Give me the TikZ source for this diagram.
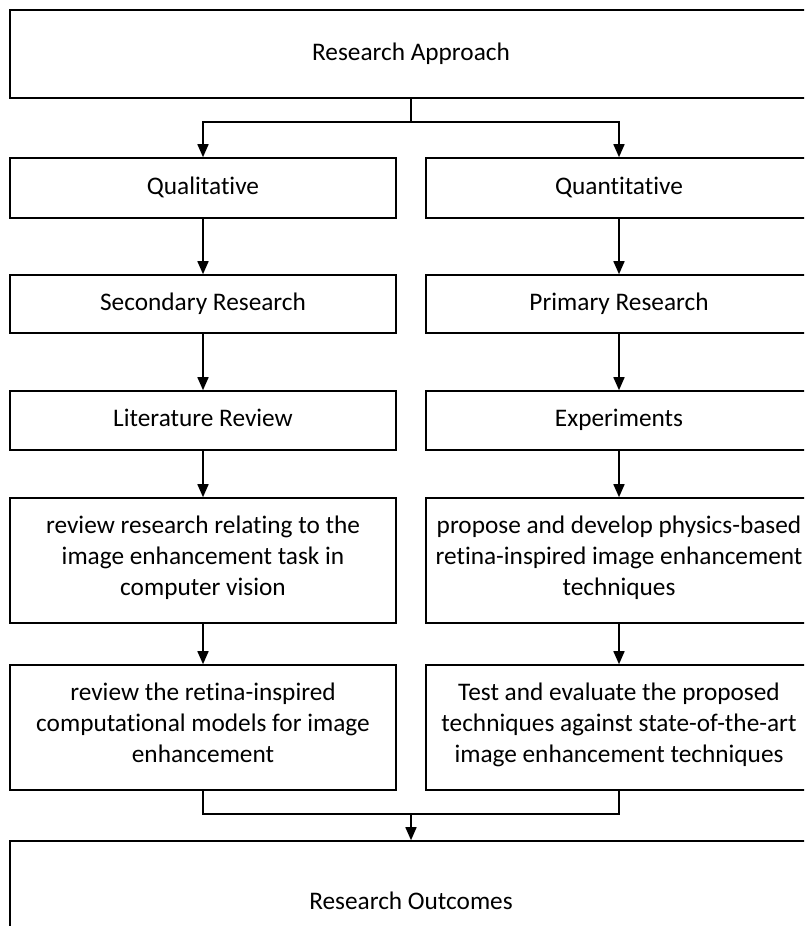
\documentclass[tikz,border=0pt]{standalone}
\usepackage{fontspec}
\setmainfont{Carlito}[Ligatures=NoCommon]
\usetikzlibrary{arrows.meta}
\begin{document}
\begin{tikzpicture}[x=1pt,y=-1pt,
  box/.style={draw=black,line width=1.6pt,rectangle,align=center,inner sep=0pt,
    font=\fontsize{25.3}{31}\selectfont,
    execute at begin node=\strut, execute at end node=\strut},
  colbox/.style={box,minimum width=386pt},
  conn/.style={line width=1.6pt},
  arr/.style={conn,-{Triangle[length=13pt,width=11pt]}}]
  \useasboundingbox (0,0) rectangle (804,926);
  \clip (0,0) rectangle (804,926);
  % top
  \node[box,minimum width=802pt,minimum height=88pt] (top) at (411,54) {Research Approach};
  % left column
  \node[colbox,minimum height=60pt] (ql) at (203,188) {Qualitative};
  \node[colbox,minimum height=58pt] (sl) at (203,304) {Secondary Research};
  \node[colbox,minimum height=59pt] (ll) at (203,420.5) {Literature Review};
  \node[colbox,minimum height=125pt] (al) at (203,560.5) {review research relating to the\\image enhancement task in\\computer vision};
  \node[colbox,minimum height=125pt] (bl) at (203,727.5) {review the retina-inspired\\computational models for image\\enhancement};
  % right column
  \node[colbox,minimum height=60pt] (qr) at (619,188) {Quantitative};
  \node[colbox,minimum height=58pt] (sr) at (619,304) {Primary Research};
  \node[colbox,minimum height=59pt] (lr) at (619,420.5) {Experiments};
  \node[colbox,minimum height=125pt] (ar) at (619,560.5) {propose and develop physics-based\\retina-inspired image enhancement\\techniques};
  \node[colbox,minimum height=125pt] (br) at (619,727.5) {Test and evaluate the proposed\\techniques against state-of-the-art\\image enhancement techniques};
  % bottom
  \node[box,minimum width=802pt,minimum height=125pt] (out) at (411,903.5) {Research Outcomes};
  % split from the top box
  \coordinate (ts) at (411,122);
  \draw[conn] (top.south) -- (ts);
  \draw[arr] (ts) -| (ql.north);
  \draw[arr] (ts) -| (qr.north);
  % column arrows
  \foreach \a/\b in {ql/sl,sl/ll,ll/al,al/bl,qr/sr,sr/lr,lr/ar,ar/br}
    \draw[arr] (\a.south) -- (\b.north);
  % merge into the outcomes box
  \coordinate (bs) at (411,814);
  \draw[conn] (bl.south) |- (bs);
  \draw[conn] (br.south) |- (bs);
  \draw[arr] (bs) -- (out.north);
\end{tikzpicture}
\end{document}
